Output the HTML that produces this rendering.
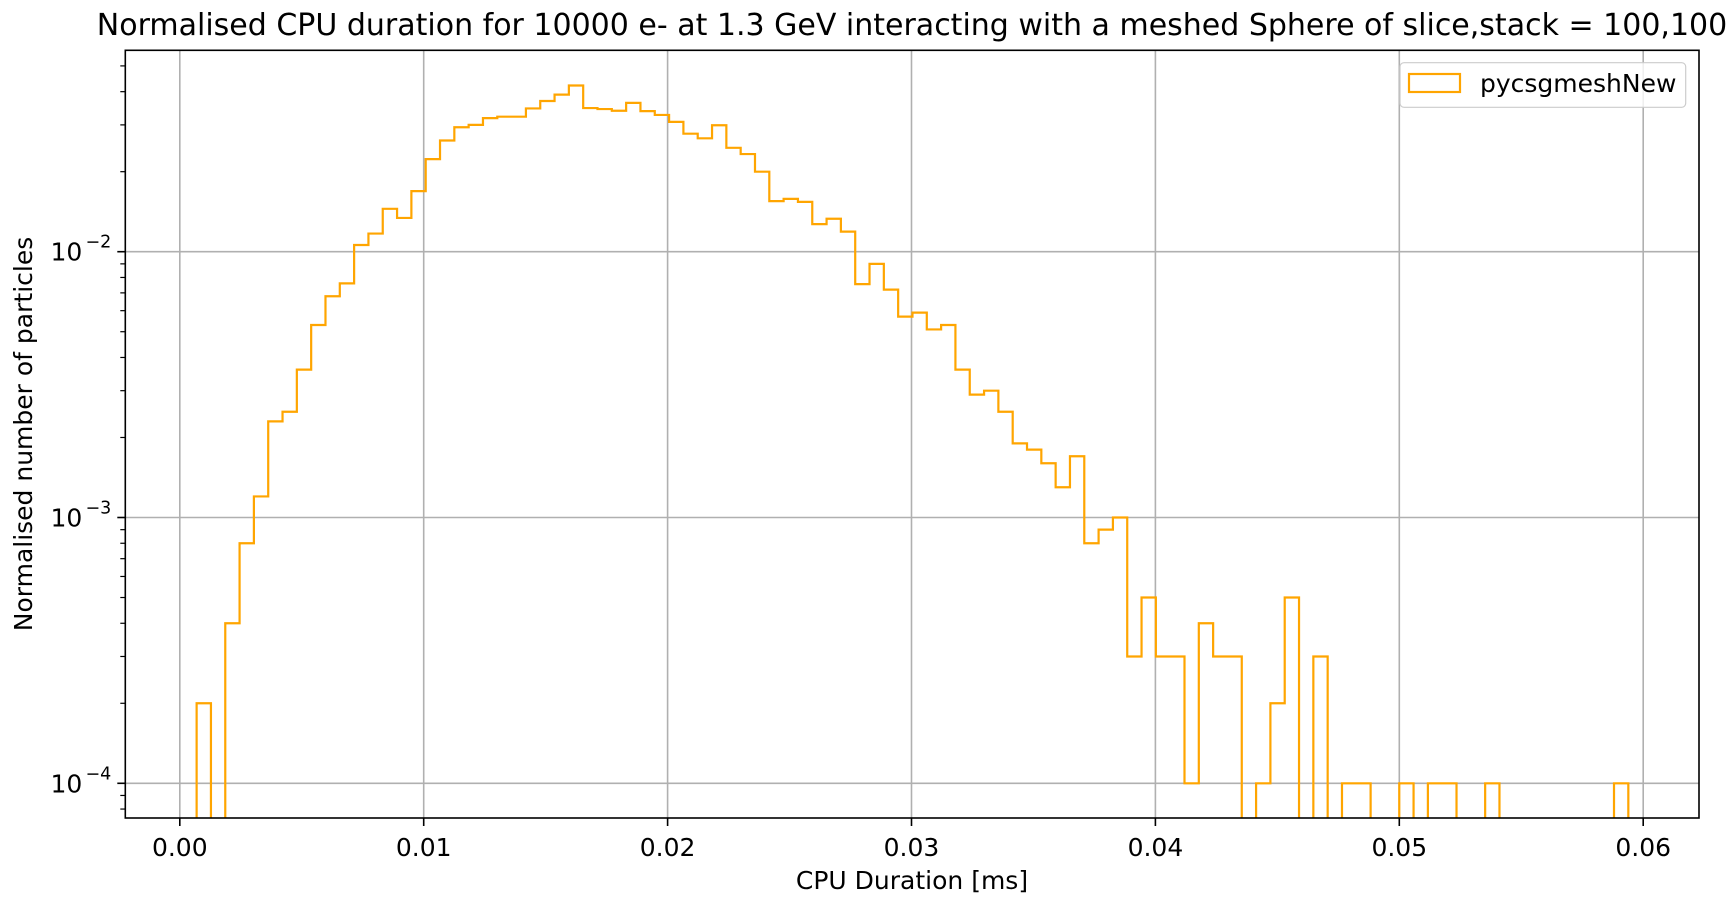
<!DOCTYPE html>
<html><head><meta charset="utf-8"><style>
html,body{margin:0;padding:0;background:#fff}
svg{display:block}
text{font-family:"DejaVu Sans","Liberation Sans",sans-serif;fill:#000}
</style></head><body>
<svg id="chart" width="1729" height="909" viewBox="0 0 1729 909" xmlns="http://www.w3.org/2000/svg">
<text x="912" y="35" font-size="30" text-anchor="middle">Normalised CPU duration for 10000 e- at 1.3 GeV interacting with a meshed Sphere of slice,stack = 100,100</text>
<g id="grid"></g>
<g id="ticks"></g>
<defs><clipPath id="clip"><rect x="125.3" y="50.3" width="1573.7" height="767.7"/></clipPath></defs>
<path id="hist" fill="none" stroke="#ffa500" stroke-width="2.2" clip-path="url(#clip)"/>
<rect x="125.3" y="50.3" width="1573.7" height="767.7" fill="none" stroke="#000" stroke-width="1.6"/>
<g>
<rect x="1400" y="62.7" width="285.7" height="44.6" rx="4" fill="#fff" fill-opacity="0.8" stroke="#ccc" stroke-width="1.2"/>
<rect x="1409" y="74" width="51" height="18" fill="none" stroke="#ffa500" stroke-width="2.2"/>
<text x="1480" y="92" font-size="25">pycsgmeshNew</text>
</g>
<text x="912" y="889" font-size="25" text-anchor="middle">CPU Duration [ms]</text>
<text transform="translate(32,434) rotate(-90)" font-size="25" text-anchor="middle">Normalised number of particles</text>
</svg>
<script>
const binStart = 0.00069;
const binWidth = 0.000587;
const counts = [
2e-4,0,4e-4,8e-4,1.2e-3,2.3e-3,2.5e-3,3.6e-3,5.3e-3,6.8e-3,
7.6e-3,0.0106,0.0117,0.0145,0.0134,0.0169,0.0223,0.0262,0.0294,0.030,
0.0318,0.0322,0.0322,0.0346,0.0369,0.039,0.0422,0.0347,0.0344,0.0339,
0.0363,0.0338,0.0327,0.0308,0.0278,0.0267,0.0299,0.0246,0.0233,0.020,
0.0155,0.0158,0.0154,0.0127,0.0133,0.0119,0.00755,0.009,0.0072,0.0057,
0.0059,0.0051,0.0053,0.0036,0.0029,0.003,0.0025,0.0019,0.0018,0.0016,
0.0013,0.0017,0.0008,0.0009,0.001,3e-4,5e-4,3e-4,3e-4,1e-4,
4e-4,3e-4,3e-4,0,1e-4,2e-4,5e-4,0,3e-4,0,
1e-4,1e-4,0,0,1e-4,0,1e-4,1e-4,0,0,
1e-4,0,0,0,0,0,0,0,0,1e-4];
const xTicks = [0,0.01,0.02,0.03,0.04,0.05,0.06];
const xTickLabels = ["0.00","0.01","0.02","0.03","0.04","0.05","0.06"];
const yDecades = [-4,-3,-2];
const yTickLabels = ["10","10","10"];

const L=125.3,R=1699,T=50.3,B=818;
const X0=179.8, PX=24390;
function xs(v){return X0+v*PX;}
const Y2=251.7, DEC=265.8;
function ys(v){return Y2-(Math.log10(v)+2)*DEC;}
const NS="http://www.w3.org/2000/svg";
const grid=document.getElementById('grid'), ticks=document.getElementById('ticks');
function mk(tag,attrs,parent){const e=document.createElementNS(NS,tag);for(const k in attrs)e.setAttribute(k,attrs[k]);parent.appendChild(e);return e;}

xTicks.forEach((v,i)=>{
  const x=xs(v);
  const g=mk('line',{x1:x,x2:x,y1:T,y2:B,stroke:'#b0b0b0','stroke-width':1.6},grid);
  
  
  const t=mk('line',{x1:x,x2:x,y1:B,y2:B+8,stroke:'#000','stroke-width':1.6},ticks);
  
  
  const lb=mk('text',{x:x,y:856,'font-size':25,'text-anchor':'middle'},ticks);
  lb.textContent=xTickLabels[i];
  
  
});
yDecades.forEach((d,i)=>{
  const y=ys(Math.pow(10,d));
  const g=mk('line',{x1:L,x2:R,y1:y,y2:y,stroke:'#b0b0b0','stroke-width':1.6},grid);
  
  
  const t=mk('line',{x1:L-8,x2:L,y1:y,y2:y,stroke:'#000','stroke-width':1.6},ticks);
  
  
  const lb=mk('text',{x:L-43,y:y+9,'font-size':25,'text-anchor':'end'},ticks);
  lb.textContent=yTickLabels[i];
  
  
  const ex=mk('text',{x:L-14,y:y-4,'font-size':17.5,'text-anchor':'end'},ticks);
  ex.textContent='\u2212'+Math.abs(d);
  
  
});
for(let d=-5;d<=-1;d++){
  for(let m=2;m<=9;m++){
    const y=ys(m*Math.pow(10,d));
    if(y<T||y>B)continue;
    const t=mk('line',{x1:L-5,x2:L,y1:y,y2:y,stroke:'#000','stroke-width':1.2},ticks);
    
    
  }
}
const LOW=B+50;
function yv(c){return c>0?ys(c):LOW;}
let d='M'+xs(binStart)+','+LOW;
counts.forEach((c,i)=>{
  const x0=xs(binStart+i*binWidth), x1=xs(binStart+(i+1)*binWidth), y=yv(c);
  d+=' L'+x0+','+y+' L'+x1+','+y;
});
d+=' L'+xs(binStart+counts.length*binWidth)+','+LOW;
document.getElementById('hist').setAttribute('d',d);
</script>
</body></html>
